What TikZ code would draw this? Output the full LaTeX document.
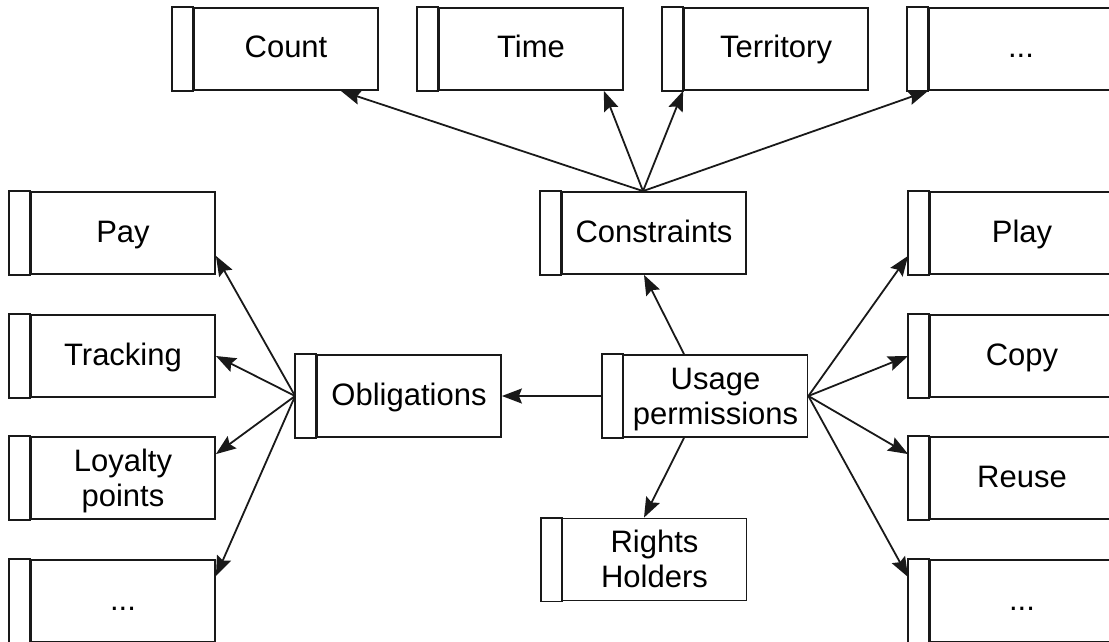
\documentclass[tikz,border=0pt]{standalone}
\usepackage{fontspec}
\setmainfont{Liberation Sans}
\usetikzlibrary{arrows.meta}
\begin{document}
\begin{tikzpicture}[x=1pt,y=-1pt,
  line width=1.8pt, draw=black!90,
  % a box: the labelled part is the node, the narrow bar on its left is added after;
  % the argument is the height of the strut that sets the text's vertical place
  box/.style={draw, rectangle, minimum width=184pt, minimum height=82pt,
    inner sep=0pt, align=center,
    font=\fontsize{31}{35}\selectfont,
    execute at begin node={\rule{0pt}{#1}},
    execute at end node={\rule[-7pt]{0pt}{7pt}},
    append after command={
      \pgfextra{\draw ([xshift=-21pt]\tikzlastnode.north west) rectangle (\tikzlastnode.south west);}
    }},
  box/.default=25pt,
  link/.style={-{Stealth[length=20pt,width=15pt,inset=3pt]}}
]
\useasboundingbox (0,0) rectangle (1109,642);
\clip (0,0) rectangle (1109,642);

% top row
\node[box] (count)     at (286,49)  {Count};
\node[box] (time)      at (531,49)  {Time};
\node[box] (territory) at (776,49)  {Territory};
\node[box] (tmore)     at (1021,49) {...};

% centre
\node[box] (constraints) at (654,233)   {Constraints};
\node[box] (obligations) at (409,396)   {Obligations};
\node[box=63pt] (usage)   at (715.5,396) {Usage\\permissions};
\node[box=63pt] (holders) at (654.5,559.5) {Rights\\Holders};

% left column
\node[box] (pay)      at (123,233) {Pay};
\node[box] (tracking) at (123,356) {Tracking};
\node[box=63pt] (loyalty) at (123,478) {Loyalty\\points};
\node[box] (lmore)    at (123,601) {...};

% right column
\node[box] (play)  at (1022,233) {Play};
\node[box] (copy)  at (1022,356) {Copy};
\node[box] (reuse) at (1022,478) {Reuse};
\node[box] (rmore) at (1022,601) {...};

% constraints fan out to the top row
\coordinate (cTop) at ([xshift=-11pt]constraints.north);
\draw[link] (cTop) -- ([xshift=-38pt]count.south east);
\draw[link] (cTop) -- ([xshift=-20pt]time.south east);
\draw[link] (cTop) -- (territory.south west);
\draw[link] (cTop) -- (tmore.south west);

% usage permissions
\draw[link] ([xshift=-31.5pt]usage.north) -- ([xshift=-10pt]constraints.south);
\draw[link] ([xshift=-31.5pt]usage.south) -- ([xshift=-10.5pt]holders.north);
\draw[link] ([xshift=-21pt]usage.west) -- (obligations.east);

\coordinate (uRight) at (usage.east);
\draw[link] (uRight) -- ([shift={(-21pt,19pt)}]play.south west);
\draw[link] (uRight) -- ([xshift=-21pt]copy.west);
\draw[link] (uRight) -- ([shift={(-21pt,-18pt)}]reuse.north west);
\draw[link] (uRight) -- ([shift={(-21pt,-18pt)}]rmore.north west);

% obligations
\coordinate (oLeft) at ([xshift=-21pt]obligations.west);
\draw[link] (oLeft) -- ([yshift=19pt]pay.south east);
\draw[link] (oLeft) -- (tracking.east);
\draw[link] (oLeft) -- ([yshift=-18pt]loyalty.north east);
\draw[link] (oLeft) -- ([yshift=-17pt]lmore.north east);
\end{tikzpicture}
\end{document}
